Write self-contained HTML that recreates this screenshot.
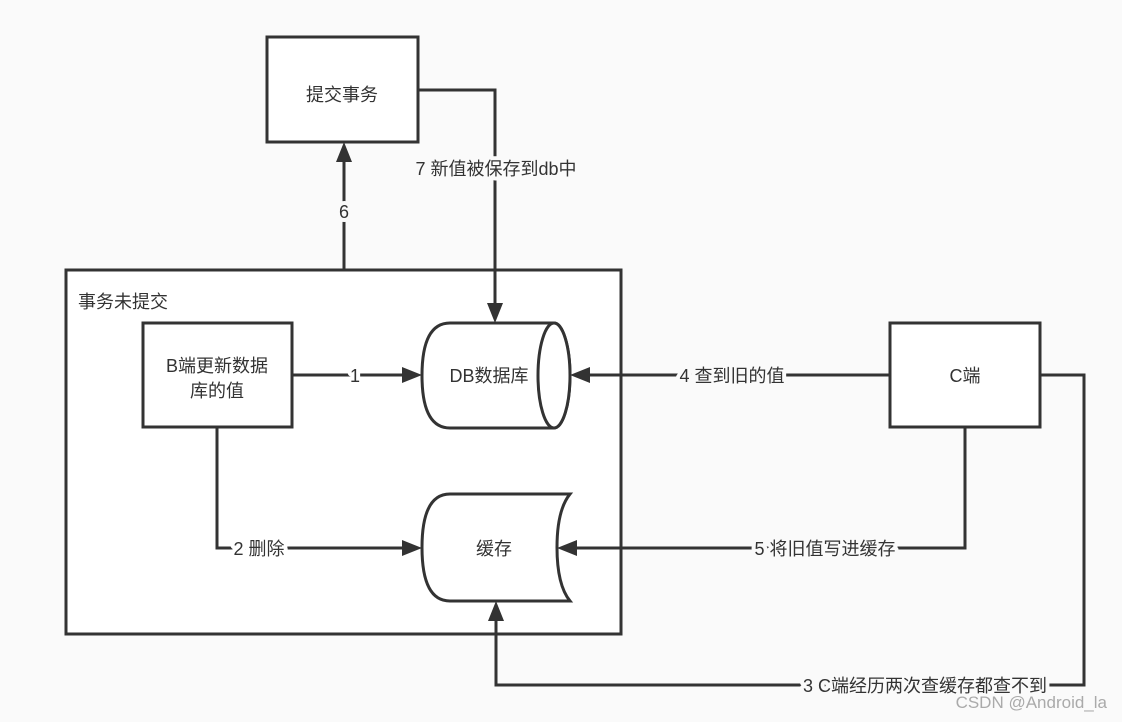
<!DOCTYPE html>
<html><head><meta charset="utf-8"><style>
html,body{margin:0;padding:0;background:#fafafa;}
svg{display:block;}
text{font-family:"Liberation Sans","Noto Sans CJK SC",sans-serif;font-size:18px;fill:#333;}
.h{stroke:#fafafa;stroke-width:8px;paint-order:stroke;stroke-linejoin:round;}
.w{stroke:#fff;stroke-width:8px;paint-order:stroke;stroke-linejoin:round;}
</style></head><body>
<svg width="1122" height="722" viewBox="0 0 1122 722" xmlns="http://www.w3.org/2000/svg">
<g stroke="#333" stroke-width="3" fill="#fff">
<rect x="267" y="37" width="151" height="105"/>
<rect x="66" y="270" width="555" height="364"/>
<rect x="143" y="323" width="149" height="104"/>
<rect x="890" y="323" width="150" height="104"/>
<path d="M450,323 H554 A16,52.5 0 0 1 554,428 H450 Q422,428 422,375.5 Q422,323 450,323 Z"/>
<ellipse cx="554" cy="375.5" rx="16" ry="52.5"/>
<path d="M450,494 H570 Q557,510 557,547.5 Q557,585 570,601 H450 Q422,601 422,547.5 Q422,494 450,494 Z"/>
</g>
<g stroke="#333" stroke-width="3" fill="none">
<path d="M344,270 V158"/>
<path d="M418,90 H495 V307"/>
<path d="M292,375 H406"/>
<path d="M890,375 H586"/>
<path d="M217,427 V548 H406"/>
<path d="M965,427 V548 H573"/>
<path d="M1040,375 H1084 V685 H496 V617"/>
</g>
<g fill="#333">
<path d="M344,142 L336,162 L352,162 Z"/>
<path d="M495,323 L487,303 L503,303 Z"/>
<path d="M422,375 L402,367 L402,383 Z"/>
<path d="M570,375 L590,367 L590,383 Z"/>
<path d="M422,548 L402,540 L402,556 Z"/>
<path d="M557,548 L577,540 L577,556 Z"/>
<path d="M496,601 L488,621 L504,621 Z"/>
</g>
<text x="342" y="101" text-anchor="middle">提交事务</text>
<text class="h" x="344" y="218" text-anchor="middle">6</text>
<text class="h" x="496" y="175" text-anchor="middle">7 新值被保存到db中</text>
<text x="78" y="308">事务未提交</text>
<text x="217" y="372" text-anchor="middle">B端更新数据</text>
<text x="217" y="397" text-anchor="middle">库的值</text>
<text class="w" x="355" y="382" text-anchor="middle">1</text>
<text x="489" y="382" text-anchor="middle">DB数据库</text>
<text class="h" x="732" y="382" text-anchor="middle">4 查到旧的值</text>
<text x="965" y="382" text-anchor="middle">C端</text>
<text class="w" x="259" y="555" text-anchor="middle">2 删除</text>
<text x="494" y="555" text-anchor="middle">缓存</text>
<text class="h" x="825" y="555" text-anchor="middle">5 将旧值写进缓存</text>
<text class="h" x="925" y="692" text-anchor="middle">3 C端经历两次查缓存都查不到</text>
<text x="1107" y="708" text-anchor="end" style="fill:#aaa;font-size:17px">CSDN @Android_la</text>
</svg>
</body></html>
